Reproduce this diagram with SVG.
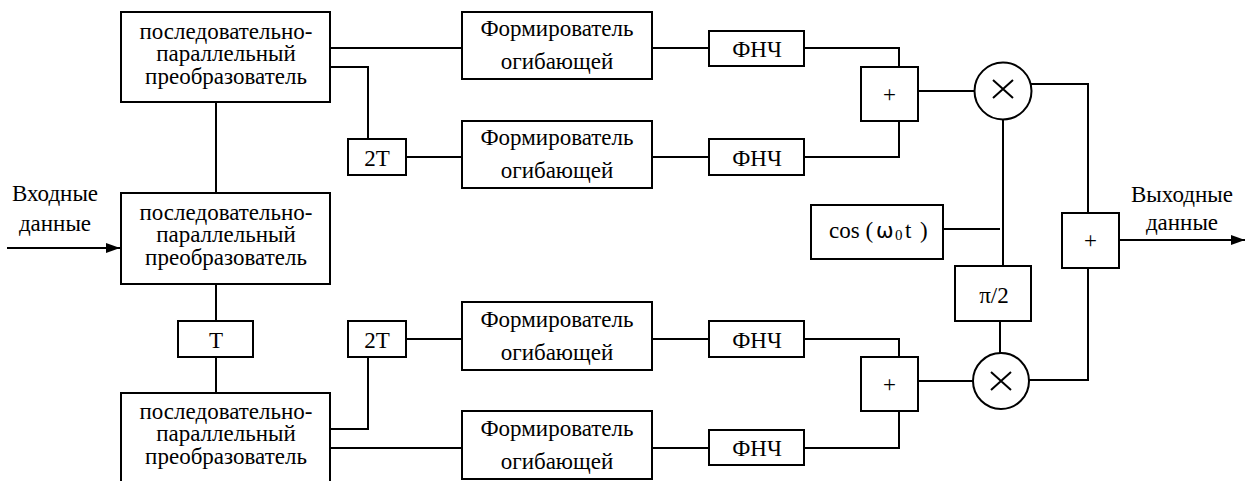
<svg xmlns="http://www.w3.org/2000/svg" width="1247" height="481" viewBox="0 0 1247 481">
<style>
.b{fill:#fff;stroke:#000;stroke-width:2}
.c{fill:none;stroke:#000;stroke-width:2}
.t{font-family:'Liberation Serif','Times New Roman','DejaVu Serif',serif;font-size:23px;fill:#000;text-anchor:middle}
</style>
<defs>
<marker id="ah" viewBox="0 0 14 10" refX="14" refY="5" markerWidth="14" markerHeight="10" markerUnits="userSpaceOnUse" orient="auto">
<path d="M0,0 L14,5 L0,10 Z" fill="#000"/>
</marker>
</defs>
<g id="connectors" class="c">
<polyline class="c" points="330,48 462,48"/>
<polyline class="c" points="330,67 368,67 368,139"/>
<polyline class="c" points="406,157 462,157"/>
<polyline class="c" points="216,102 216,193"/>
<polyline class="c" points="7,248 120,248" marker-end="url(#ah)"/>
<polyline class="c" points="216,284 216,321"/>
<polyline class="c" points="216,357 216,393"/>
<polyline class="c" points="330,429 368,429 368,357"/>
<polyline class="c" points="406,339 462,339"/>
<polyline class="c" points="330,448 462,448"/>
<polyline class="c" points="652,48 709,48"/>
<polyline class="c" points="652,157 709,157"/>
<polyline class="c" points="652,339 709,339"/>
<polyline class="c" points="652,448 709,448"/>
<polyline class="c" points="804,48 899,48 899,67"/>
<polyline class="c" points="804,157 899,157 899,121"/>
<polyline class="c" points="918,91 974,91"/>
<polyline class="c" points="1031,84 1088,84 1088,213"/>
<polyline class="c" points="1003,120 1003,266"/>
<polyline class="c" points="943,229 1000,229"/>
<polyline class="c" points="1000,321 1000,353"/>
<polyline class="c" points="804,339 899,339 899,357"/>
<polyline class="c" points="804,448 899,448 899,411"/>
<polyline class="c" points="918,381 973,381"/>
<polyline class="c" points="1029,380 1088,380 1088,268"/>
<polyline class="c" points="1119,240 1245,240" marker-end="url(#ah)"/>
</g>
<g id="pp1"><rect class="b" x="121" y="12" width="209" height="90"/>
<text class="t" x="226" y="38.5">последовательно-</text><text class="t" x="226" y="61">параллельный</text><text class="t" x="226" y="83.5">преобразователь</text></g>
<g id="pp2"><rect class="b" x="121" y="193" width="209" height="91"/>
<text class="t" x="226" y="219.5">последовательно-</text><text class="t" x="226" y="242">параллельный</text><text class="t" x="226" y="264.5">преобразователь</text></g>
<g id="pp3"><rect class="b" x="121" y="393" width="209" height="100"/>
<text class="t" x="226" y="418.5">последовательно-</text><text class="t" x="226" y="441">параллельный</text><text class="t" x="226" y="463.5">преобразователь</text></g>
<g id="d2t1"><rect class="b" x="348" y="139" width="58" height="36"/><text class="t" x="377" y="165.5">2T</text></g>
<g id="d2t2"><rect class="b" x="348" y="321" width="58" height="36"/><text class="t" x="377" y="347.5">2T</text></g>
<g id="dt"><rect class="b" x="178" y="321" width="75" height="36"/><text class="t" x="216" y="347.5">T</text></g>
<g id="f1"><rect class="b" x="462" y="12" width="190" height="67"/><text class="t" x="557" y="36">Формирователь</text><text class="t" x="557" y="69">огибающей</text></g>
<g id="f2"><rect class="b" x="462" y="121" width="190" height="67"/><text class="t" x="557" y="145">Формирователь</text><text class="t" x="557" y="178">огибающей</text></g>
<g id="f3"><rect class="b" x="462" y="302" width="190" height="68"/><text class="t" x="557" y="326.5">Формирователь</text><text class="t" x="557" y="359.5">огибающей</text></g>
<g id="f4"><rect class="b" x="462" y="411" width="190" height="68"/><text class="t" x="557" y="435.5">Формирователь</text><text class="t" x="557" y="468.5">огибающей</text></g>
<g id="l1"><rect class="b" x="709" y="31" width="95" height="35"/><text class="t" x="757" y="57">ФНЧ</text></g>
<g id="l2"><rect class="b" x="709" y="139" width="95" height="36"/><text class="t" x="757" y="165.5">ФНЧ</text></g>
<g id="l3"><rect class="b" x="709" y="321" width="95" height="36"/><text class="t" x="757" y="347.5">ФНЧ</text></g>
<g id="l4"><rect class="b" x="709" y="430" width="95" height="35"/><text class="t" x="757" y="456">ФНЧ</text></g>
<g id="s1"><rect class="b" x="861" y="67" width="57" height="54"/><text class="t" x="889.5" y="102">+</text></g>
<g id="s2"><rect class="b" x="861" y="357" width="57" height="54"/><text class="t" x="889.5" y="392">+</text></g>
<g id="m1"><circle class="b" cx="1003" cy="91" r="28.5"/><path class="c" d="M993,80 L1013,98 M1013,80 L993,98" stroke-width="1.6"/></g>
<g id="m2"><circle class="b" cx="1001" cy="381" r="28"/><path class="c" d="M991,372 L1011,390 M1011,372 L991,390" stroke-width="1.6"/></g>
<g id="osc"><rect class="b" x="811" y="205" width="132" height="54"/>
<text class="t" style="text-anchor:start" y="237.5"><tspan x="829">cos (</tspan><tspan x="876" font-family="DejaVu Sans, sans-serif" font-size="21">ω</tspan><tspan x="895" y="240" font-size="15">0</tspan><tspan x="905" y="237.5">t</tspan><tspan x="920">)</tspan></text></g>
<g id="ph"><rect class="b" x="955" y="266" width="76" height="55"/><text class="t" x="994" y="303">π/2</text></g>
<g id="so"><rect class="b" x="1062" y="213" width="57" height="55"/><text class="t" x="1090.5" y="248">+</text></g>
<g id="in"><text class="t" x="55" y="201">Входные</text><text class="t" x="55" y="231">данные</text></g>
<g id="out"><text class="t" x="1182" y="202">Выходные</text><text class="t" x="1182" y="230">данные</text></g>
</svg>
